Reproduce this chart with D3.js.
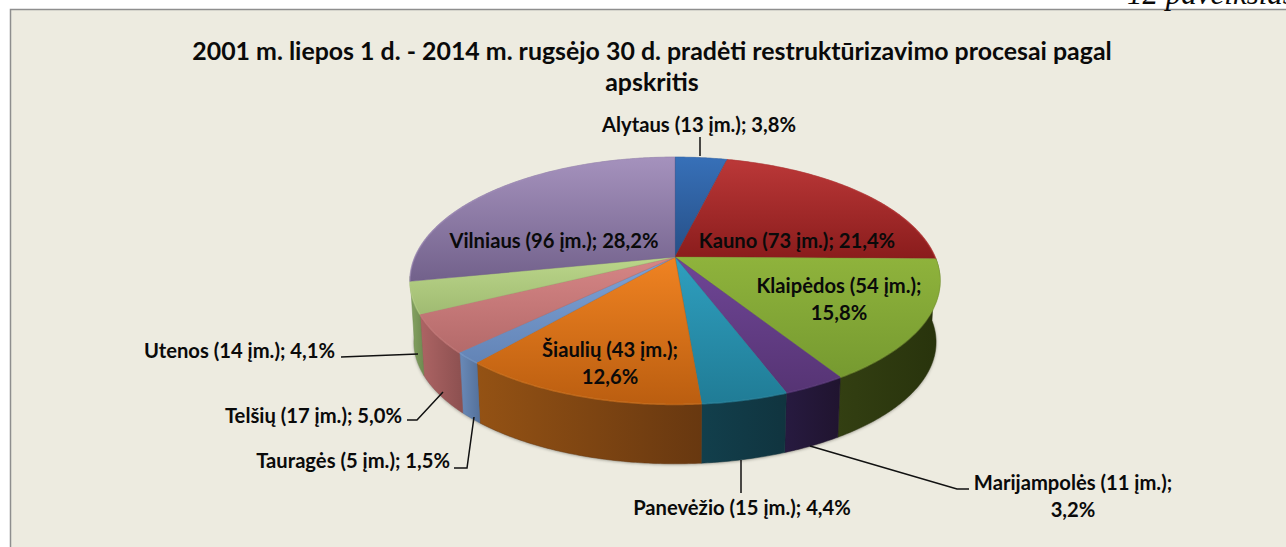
<!DOCTYPE html>
<html>
<head>
<meta charset="utf-8">
<style>
  html, body { margin: 0; padding: 0; background: #fff; overflow: hidden; }
  svg { display: block; }
  text { font-family: Lato, "Noto Sans", sans-serif; font-weight: 700; fill: #0a0a0a; }
  .leader { fill: none; stroke: #111; stroke-width: 1.5px; }
</style>
</head>
<body>
<div id="chart"></div>
<script src="https://d3js.org/d3.v7.min.js"></script>
<script>

// chart values, clockwise from twelve o'clock
var regions = ["Alytaus", "Kauno", "Klaipėdos", "Marijampolės", "Panevėžio", "Šiaulių", "Tauragės", "Telšių", "Utenos", "Vilniaus"];
var companies = [13, 73, 54, 11, 15, 43, 5, 17, 14, 96];
var percents = ["3,8%", "21,4%", "15,8%", "3,2%", "4,4%", "12,6%", "1,5%", "5,0%", "4,1%", "28,2%"];

var titleLines = ["2001 m. liepos 1 d. - 2014 m. rugsėjo 30 d. pradėti restruktūrizavimo procesai pagal", "apskritis"];

// slice colours: top face light/dark, side wall light/dark
var topLight = ["#3770b8", "#bb3838", "#8fb33c", "#6f4696", "#2f9fbf", "#f08322", "#7ea3d6", "#d68686", "#bbd68a", "#a592bd"];
var topDark = ["#264f86", "#8a1c1c", "#769a30", "#563474", "#207c96", "#bb5e10", "#6384b6", "#b46a6a", "#a0bb72", "#72618b"];
var sideLight = ["#264f86", "#6e1717", "#333f12", "#271a40", "#123f4c", "#945214", "#6a8ab8", "#ad6464", "#87a564", "#6a5a80"];
var sideDark = ["#1c3b64", "#541111", "#28330c", "#20142f", "#10343f", "#683810", "#54719b", "#8c5050", "#6f8a50", "#5a4b6e"];

var width = 1286, height = 547;

var svg = d3.select("#chart").append("svg")
    .attr("width", width)
    .attr("height", height);

// page background and frame
svg.append("rect").attr("x", 10.5).attr("y", 9.5).attr("width", 1300).attr("height", 560)
    .attr("fill", "#edebe0").attr("stroke", "#8e8e8e").attr("stroke-width", 1.5);

svg.append("text")
    .attr("x", 1127).attr("y", 4)
    .style("font-family", "'Liberation Serif', serif")
    .style("font-style", "italic")
    .style("font-weight", 400)
    .style("font-size", "31px")
    .text("12 paveikslas");

svg.selectAll(".title").data(titleLines).enter().append("text")
    .attr("class", "title")
    .attr("x", 652)
    .attr("y", function(d, i) { return 60 + i * 31; })
    .attr("text-anchor", "middle")
    .style("font-size", "24.9px")
    .text(function(d) { return d; });

// pie angles
var pie = d3.pie().sort(null).value(function(d) { return d; });
var arcs = pie(companies);

// perspective projection of the unit disc onto the page
var tilt = 0.1903;
var xScale = d3.scaleLinear().domain([-1, 1]).range([675 - 260.2, 675 + 260.2]);
var yScale = d3.scaleLinear().domain([-1, 1]).range([257 - 119, 257 + 119]);

function project(angle, radius, drop, shrink) {
  var u = radius * Math.sin(angle), v = -radius * Math.cos(angle);
  var w = 1 - tilt * v;
  return [
    xScale(0) + (xScale(u / w) - xScale(0)) * shrink,
    yScale(0) + drop + (yScale(v / w) - yScale(0)) * shrink
  ];
}

function arcPoints(a0, a1, drop, shrink) {
  var n = Math.max(2, Math.ceil((a1 - a0) / 0.01));
  return d3.range(n + 1).map(function(i) {
    return project(a0 + (a1 - a0) * i / n, 1, drop, shrink);
  });
}

var line = d3.line();
var depth = 62, lowShrink = 0.985;

// gradients
var defs = svg.append("defs");
arcs.forEach(function(d, i) {
  var g = defs.append("linearGradient").attr("id", "top" + i)
      .attr("x1", 0).attr("y1", 0).attr("x2", 0).attr("y2", 1);
  g.append("stop").attr("offset", "0%").attr("stop-color", topLight[i]);
  g.append("stop").attr("offset", "100%").attr("stop-color", topDark[i]);
  var s = defs.append("linearGradient").attr("id", "side" + i)
      .attr("x1", 0).attr("y1", 0).attr("x2", 1).attr("y2", 0);
  s.append("stop").attr("offset", "0%").attr("stop-color", sideLight[i]);
  s.append("stop").attr("offset", "100%").attr("stop-color", sideDark[i]);
});
var blur = defs.append("filter").attr("id", "soft")
    .attr("x", "-5%").attr("y", "-5%").attr("width", "110%").attr("height", "115%");
blur.append("feGaussianBlur").attr("stdDeviation", 1.5);

// soft shadow under the pie
svg.append("path")
    .attr("d", line(arcPoints(0, 2 * Math.PI, depth + 1, lowShrink)) + "Z")
    .attr("fill", "#55534a")
    .attr("opacity", 0.5)
    .attr("filter", "url(#soft)");

// side walls, only for the slices on the near half; Utenos runs on to the silhouette
var walls = arcs.map(function(d, i) { return { arc: d, index: i }; })
    .filter(function(w) { return -Math.cos((w.arc.startAngle + w.arc.endAngle) / 2) > 0 || regions[w.index] === "Utenos"; });

svg.append("g").selectAll("path").data(walls).enter().append("path")
    .attr("d", function(w) {
      var end = regions[w.index] === "Utenos" ? w.arc.endAngle + 0.04 : w.arc.endAngle;
      var up = arcPoints(w.arc.startAngle, end, 0, 1);
      var down = arcPoints(w.arc.startAngle, end, depth, lowShrink).reverse();
      return line(up.concat(down)) + "Z";
    })
    .attr("fill", function(w) { return "url(#side" + w.index + ")"; })
    .attr("stroke", function(w) { return sideDark[w.index]; })
    .attr("stroke-width", 0.5);

svg.append("g").selectAll("path").data(arcs).enter().append("path")
    .attr("d", function(d) {
      var rim = arcPoints(d.startAngle, d.endAngle, 0, 1);
      return line([project(0, 0, 0, 1)].concat(rim)) + "Z";
    })
    .attr("fill", function(d, i) { return "url(#top" + i + ")"; })
    .attr("stroke", function(d, i) { return topDark[i]; })
    .attr("stroke-width", 0.4);

// bevel highlight on the front rim
svg.append("g").selectAll("path").data(arcs).enter().append("path")
    .attr("d", function(d) { return line(arcPoints(d.startAngle, d.endAngle, 0.5, 1)); })
    .attr("fill", "none")
    .attr("stroke", function(d, i) { return topLight[i]; })
    .attr("stroke-width", 1.5)
    .attr("opacity", 0.5);

// label placement, in the same order as the regions; anchor x, first baseline, wrapped or not
var labelPlace = [
  { x: 699, y: 132, anchor: "middle", wrap: false },
  { x: 797, y: 248, anchor: "middle", wrap: false },
  { x: 839, y: 293, anchor: "middle", wrap: true },
  { x: 1073, y: 490, anchor: "middle", wrap: true },
  { x: 742, y: 515, anchor: "middle", wrap: false },
  { x: 610, y: 357, anchor: "middle", wrap: true },
  { x: 450, y: 468, anchor: "end", wrap: false },
  { x: 402, y: 423, anchor: "end", wrap: false },
  { x: 335, y: 358, anchor: "end", wrap: false },
  { x: 554, y: 248, anchor: "middle", wrap: false }
];

var labels = svg.append("g").selectAll("text").data(arcs).enter().append("text")
    .attr("text-anchor", function(d, i) { return labelPlace[i].anchor; })
    .style("font-size", "20.2px");

labels.each(function(d, i) {
  var p = labelPlace[i];
  var head = regions[i] + " (" + companies[i] + " įm.);";
  if (p.wrap) {
    d3.select(this).append("tspan").attr("x", p.x).attr("y", p.y).text(head);
    d3.select(this).append("tspan").attr("x", p.x).attr("y", p.y + 27).text(percents[i]);
  } else {
    d3.select(this).append("tspan").attr("x", p.x).attr("y", p.y).text(head + " " + percents[i]);
  }
});

// leader lines
var leaders = [
  [[700, 137], [700, 156]],
  [[741, 460], [741, 493]],
  [[810, 446], [957, 489], [969, 489]],
  [[341, 357], [418, 354]],
  [[407, 420], [417, 420], [443, 392]],
  [[454, 468], [467, 468], [474, 417]]
];

svg.append("g").selectAll("path").data(leaders).enter().append("path")
    .attr("class", "leader")
    .attr("d", function(d) { return line(d); });

</script>
</body>
</html>
